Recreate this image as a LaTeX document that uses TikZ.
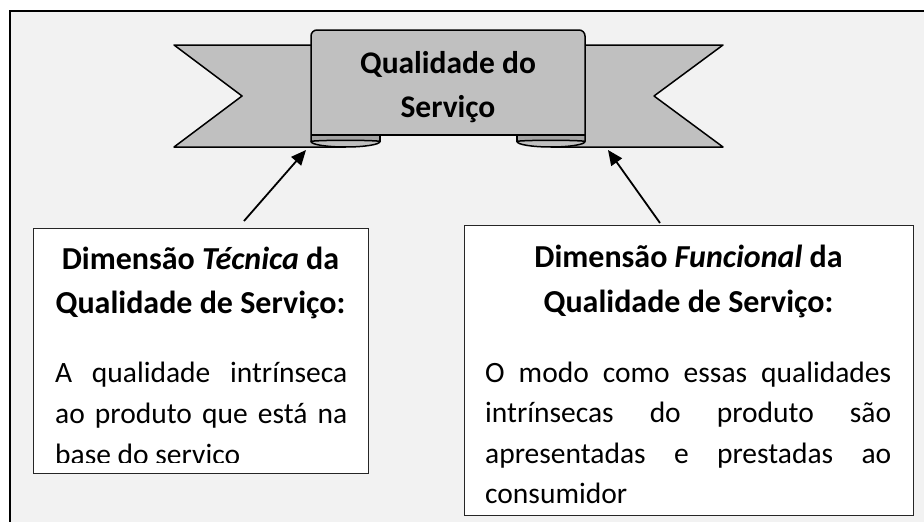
\documentclass[tikz,border=0pt]{standalone}
\usepackage{fontspec}
\setmainfont{Carlito}
\usetikzlibrary{arrows.meta}
\definecolor{bg}{HTML}{F2F2F2}
\definecolor{ribfill}{HTML}{C0C0C0}
\definecolor{ribdark}{HTML}{A3A3A3}
\definecolor{boxline}{HTML}{262626}
\tikzset{
  ribbon/.style={fill=ribfill, draw=black, line width=1.5pt, line join=round},
  ribline/.style={draw=black, line width=1.5pt},
  boxstyle/.style={draw=boxline, fill=white, line width=1.4pt, inner sep=0pt, anchor=north west},
  arr/.style={line width=1.8pt, -{Triangle[length=15pt,width=13pt]}},
  title/.style={font=\fontsize{31.5}{44}\selectfont\bfseries, inner sep=0pt, anchor=base},
  head/.style={font=\fontsize{32}{44}\selectfont\bfseries, inner sep=0pt, anchor=base},
  body/.style={font=\fontsize{29.5}{41}\selectfont, inner sep=0pt, anchor=base west}
}
\begin{document}
\begin{tikzpicture}[x=1pt,y=-1pt]
\useasboundingbox (0,0) rectangle (924,522);
\clip (0,0) rectangle (924,522);
\fill[white] (0,0) rectangle (924,522);
\draw[line width=2pt, fill=bg] (10,11) rectangle (940,540);
% tails
\draw[ribbon] (174,45) -- (345.5,45) -- (345.5,147) -- (174,147) -- (242,96) -- cycle;
\draw[ribbon] (723,45) -- (551,45) -- (551,147) -- (723,147) -- (654,96) -- cycle;
% dark inner folds
\fill[ribdark] (311,135) rectangle (380,142);
\draw[ribline] (380,135) -- (380,142);
\fill[ribdark] (517,135) rectangle (585,142);
\draw[ribline] (517,135) -- (517,142);
% front curls
\draw[ribbon] (311,141.5) arc[start angle=180,end angle=0,x radius=34.5,y radius=5.5]
  arc[start angle=0,end angle=-180,x radius=34.5,y radius=1.2] -- cycle;
\draw[ribbon] (517,141.5) arc[start angle=180,end angle=0,x radius=34,y radius=5.5]
  arc[start angle=0,end angle=-180,x radius=34,y radius=1.2] -- cycle;
% centre panel
\fill[ribfill, rounded corners=6pt] (311,135) -- (311,30) -- (585,30) -- (585,135);
\draw[ribline, rounded corners=6pt] (311,141.5) -- (311,30) -- (585,30) -- (585,141.5);
\draw[ribline] (311,135) -- (585,135);
\node[title] (t1) at (448,73) {Qualidade do};
\node[title] (t2) at (448,117) {Serviço};
% boxes
\node[boxstyle, minimum width=335pt, minimum height=245pt] (lbox) at (33,228) {};
\node[boxstyle, minimum width=449pt, minimum height=290pt] (rbox) at (464,225) {};
% arrows
\coordinate (la0) at (244,221);
\coordinate (la1) at (306,150);
\coordinate (ra0) at (660,223);
\coordinate (ra1) at (608,150);
\draw[arr] (la0) -- (la1);
\draw[arr] (ra0) -- (ra1);
% left box text
\node[head] (lh1) at (200.5,269) {Dimensão \textit{Técnica} da};
\node[head] (lh2) at (200.5,313) {Qualidade de Serviço:};
\begin{scope}
\clip (33,228) rectangle (368,462);
\node[body] (lb1) at (55,382) {\makebox[292pt][s]{A qualidade intrínseca}};
\node[body] (lb2) at (55,423) {\makebox[292pt][s]{ao produto que está na}};
\node[body] (lb3) at (55,464) {base do serviço};
\end{scope}
% right box text
\node[head] (rh1) at (688.5,267) {Dimensão \textit{Funcional} da};
\node[head] (rh2) at (688.5,312) {Qualidade de Serviço:};
\node[body] (rb1) at (485,382) {\makebox[406pt][s]{O modo como essas qualidades}};
\node[body] (rb2) at (485,422) {\makebox[406pt][s]{intrínsecas do produto são}};
\node[body] (rb3) at (485,463) {\makebox[406pt][s]{apresentadas e prestadas ao}};
\node[body] (rb4) at (485,503) {consumidor};
\end{tikzpicture}
\end{document}
